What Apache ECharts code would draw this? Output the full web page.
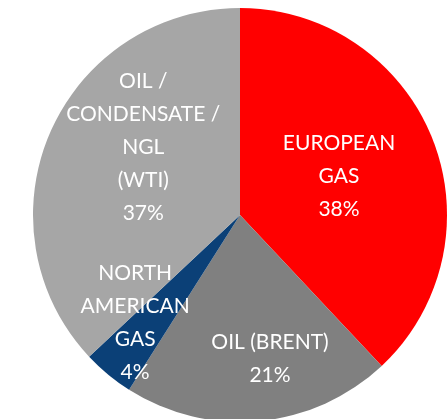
<!DOCTYPE html>
<html>
<head>
<meta charset="utf-8">
<script src="https://cdn.jsdelivr.net/npm/echarts@6/dist/echarts.min.js"></script>
<style>
html,body{margin:0;padding:0;background:#fff;}
#chart{width:447px;height:419px;}
</style>
</head>
<body>
<div id="chart"></div>
<script>
var categories = ['EUROPEAN\nGAS', 'OIL (BRENT)', 'NORTH\nAMERICAN\nGAS', 'OIL /\nCONDENSATE /\nNGL\n(WTI)'];
var values = [38, 21, 4, 37];
var colors = ['#FF0000', '#808080', '#0B4077', '#A6A6A6'];
var labelShift = [[0, 0], [20, 38], [-37, 26], [1, -25]];

var chart = echarts.init(document.getElementById('chart'), null, {renderer: 'canvas'});
chart.setOption({
  animation: false,
  series: [{
    type: 'pie',
    center: [240, 215],
    radius: [0, 207],
    startAngle: 90,
    clockwise: true,
    avoidLabelOverlap: false,
    itemStyle: {borderWidth: 0},
    label: {
      show: true,
      position: 'inside',
      color: '#ffffff',
      fontFamily: 'Lato',
      fontSize: 21,
      lineHeight: 33,
      align: 'center',
      formatter: function (p) { return p.name + '\n' + p.value + '%'; }
    },
    labelLine: {show: false},
    labelLayout: function (p) {
      var s = labelShift[p.dataIndex];
      return {dx: s[0], dy: s[1]};
    },
    data: categories.map(function (c, i) {
      return {name: c, value: values[i], itemStyle: {color: colors[i]}};
    })
  }]
});
</script>
</body>
</html>
